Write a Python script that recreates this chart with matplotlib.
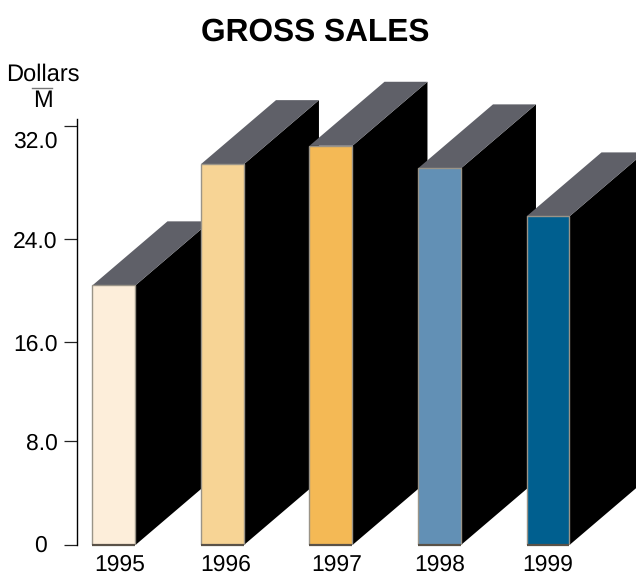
#!/usr/bin/env python
#-*- coding: utf-8 -*-

import numpy as np
import matplotlib
matplotlib.use('Agg')
import matplotlib.pyplot as plt
from matplotlib.lines import Line2D
from matplotlib.patches import Polygon
from matplotlib.transforms import IdentityTransform, ScaledTranslation

years = ['1995', '1996', '1997', '1998', '1999']
sales = [20.4, 29.3, 30.6, 29.0, 25.6]
colors = ['#FDEEDA', '#F7D495', '#F4B955', '#6290B5', '#005F8F']
tick_values = [0, 8, 16, 24, 32]
tick_labels = ['0', '8.0', '16.0', '24.0', '32.0']

# the printed axis is not quite even, so keep the tick spacing it has (fraction of axis height)
scale_values = [0, 8, 16, 24, 32, 32.6]
scale_fracs = [0, 104 / 426., 203 / 426., 306 / 426., 419 / 426., 1]

plt.rcParams['font.family'] = ['Liberation Sans', 'DejaVu Sans']
plt.rcParams['text.hinting'] = 'no_hinting'

W, H = 636, 575
fig = plt.figure(figsize=(W / 100., H / 100.), dpi=100)
ax = fig.add_axes([77. / W, (H - 545.) / H, (W - 77.) / W, 426. / H])

forward = lambda v: np.interp(v, scale_values, scale_fracs)
inverse = lambda f: np.interp(f, scale_fracs, scale_values)
ax.set_yscale('function', functions=(forward, inverse))
ax.set_ylim(0, 32.6)
ax.set_xlim(-0.3456, 4.806)

x = np.arange(len(years))
bar_w = 0.396
bars = ax.bar(x - 0.005, sales, width=bar_w, color=colors, zorder=3,
              edgecolor='#9a9488', linewidth=1.0)
ax.hlines(np.zeros(len(x)), x - 0.005 - bar_w / 2, x - 0.005 + bar_w / 2, color='#5a5248', lw=1.6, zorder=40, clip_on=False)

# depth of the boxes, in pixels
depth_x, depth_y = 75, 64
for i, b in enumerate(bars):
    x0, y0 = ax.transData.transform((b.get_x(), 0))
    x1, y1 = ax.transData.transform((b.get_x() + b.get_width(), sales[i]))
    side = [(x1, y0), (x1 + depth_x, y0 + depth_y), (x1 + depth_x, y1 + depth_y), (x1, y1)]
    top = [(x0, y1), (x1, y1), (x1 + depth_x, y1 + depth_y), (x0 + depth_x, y1 + depth_y)]
    b.set_zorder(3 + i * 3 + 2)
    fig.add_artist(Polygon(side, closed=True, fc='black', ec='none',
                           transform=IdentityTransform(), zorder=3 + i * 3))
    fig.add_artist(Polygon(top, closed=True, fc='#5F6068', ec='none',
                           transform=IdentityTransform(), zorder=3 + i * 3 + 1))

# axes sit on top of the boxes so fronts are redrawn after the sides
ax.set_zorder(50)
ax.patch.set_alpha(0)
for s in ['top', 'right', 'bottom']:
    ax.spines[s].set_visible(False)
ax.spines['left'].set_linewidth(1.0)

ax.set_yticks(tick_values)
ax.set_yticklabels(tick_labels, fontsize=16.5)
ax.minorticks_off()
ax.tick_params(axis='y', length=9.5, width=0.9, pad=4.5, color='#222222')

# labels in the print are not exactly on their ticks
px = 1 / 100.
shifted = ax.get_yticklabels()
shifted[0].set_transform(shifted[0].get_transform() + ScaledTranslation(-11 * px, 2 * px, fig.dpi_scale_trans))
shifted[4].set_transform(shifted[4].get_transform() + ScaledTranslation(0, -13 * px, fig.dpi_scale_trans))

ax.set_xticks(x + np.array([5, 3, 5, 0, -1]) / 108.5)
ax.set_xticklabels(years, fontsize=16.5)
ax.tick_params(axis='x', length=0, pad=6.5)

fig.text(315. / W, 1 - 32. / H, 'GROSS SALES', fontsize=22.8, fontweight='bold',
         ha='center', va='center')
fig.text(43. / W, 1 - 75. / H, 'Dollars', fontsize=17, ha='center', va='center')
fig.text(43. / W, 1 - 101. / H, 'M', fontsize=17, ha='center', va='center')
fig.add_artist(Line2D([32. / W, 52. / W], [1 - 88. / H, 1 - 88. / H], color='#777777', lw=1.0))

fig.savefig('out.png', dpi=100)
